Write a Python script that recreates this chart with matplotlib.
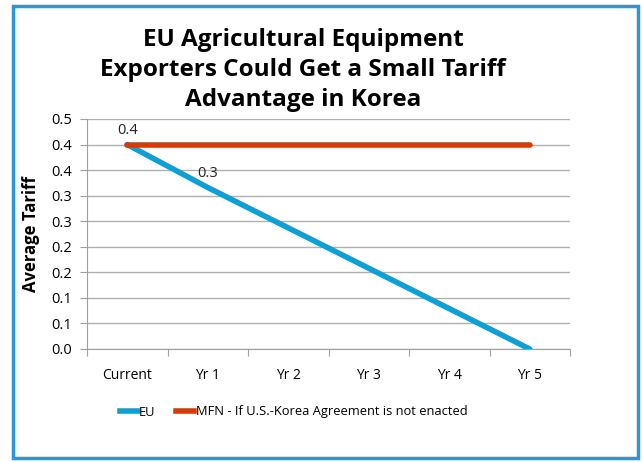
import matplotlib.pyplot as plt
from matplotlib.patches import Rectangle
from matplotlib.lines import Line2D

# Data
categories = ["Current", "Yr 1", "Yr 2", "Yr 3", "Yr 4", "Yr 5"]
eu = [0.40, 0.316, 0.237, 0.158, 0.079, 0.00]
mfn = [0.40, 0.40, 0.40, 0.40, 0.40, 0.40]
eu_labels = {0: "0.4", 1: "0.3"}
yticks = [0.0, 0.05, 0.10, 0.15, 0.20, 0.25, 0.30, 0.35, 0.40, 0.45]
ytick_labels = ["0.0", "0.1", "0.1", "0.2", "0.2", "0.3", "0.3", "0.4", "0.4", "0.5"]

EU_COLOR = "#0f9fd2"
MFN_COLOR = "#d23c0a"
FONT = "Open Sans"

fig = plt.figure(figsize=(6.42, 4.62), dpi=100)
ax = fig.add_axes([87 / 642, 1 - 349 / 462, (570 - 87) / 642, (349 - 119) / 462])

# frame around whole chart
fig.patches.append(Rectangle((13 / 642, 4 / 462), 625 / 642, 452 / 462,
                             transform=fig.transFigure, fill=False,
                             edgecolor="#2a98d6", linewidth=2.5))

x = list(range(len(categories)))
ax.plot(x, eu, color=EU_COLOR, lw=4, solid_capstyle="round", zorder=3)
ax.plot(x, mfn, color=MFN_COLOR, lw=4, solid_capstyle="round", zorder=4)

for i, txt in eu_labels.items():
    ax.annotate(txt, (x[i], eu[i]), xytext=(0, 5), textcoords="offset points",
                ha="center", va="bottom", fontsize=10.5, family=FONT, color="#222222")

ax.set_xlim(-0.5, 5.5)
ax.set_ylim(0, 0.45)
ax.set_yticks(yticks)
ax.set_yticklabels(ytick_labels, family=FONT, fontsize=10.5)
ax.grid(axis="y", color="#b0b0b0", lw=1)
ax.set_axisbelow(True)

# category labels between boundary ticks
ax.set_xticks([i - 0.5 for i in range(len(categories) + 1)])
ax.set_xticklabels([])
ax.set_xticks(x, minor=True)
ax.set_xticklabels(categories, minor=True, family=FONT, fontsize=10)
ax.tick_params(axis="x", which="minor", length=0, pad=14)
ax.tick_params(axis="x", which="major", length=5, color="#a0a0a0")
ax.tick_params(axis="y", length=5, color="#a0a0a0", pad=6)

for s in ["top", "right"]:
    ax.spines[s].set_visible(False)
for s in ["left", "bottom"]:
    ax.spines[s].set_color("#a0a0a0")

ax.set_ylabel("Average Tariff", family=FONT, fontsize=12, fontweight="bold", labelpad=8)

fig.text(303 / 642, 1 - 70 / 462,
         "EU Agricultural Equipment\nExporters Could Get a Small Tariff\nAdvantage in Korea",
         ha="center", va="center", family=FONT, fontsize=17.5, fontweight="bold",
         linespacing=1.35)

handles = [Line2D([], [], color=EU_COLOR, lw=4),
           Line2D([], [], color=MFN_COLOR, lw=4)]
fig.legend(handles, ["EU", "MFN - If U.S.-Korea Agreement is not enacted"],
           loc="center left", bbox_to_anchor=(108 / 642, 1 - 412 / 462), ncol=2,
           frameon=False, prop={"family": FONT, "size": 9.3}, handlelength=1.4,
           handletextpad=0.1, columnspacing=1.6)

fig.savefig("out.png", dpi=100)
